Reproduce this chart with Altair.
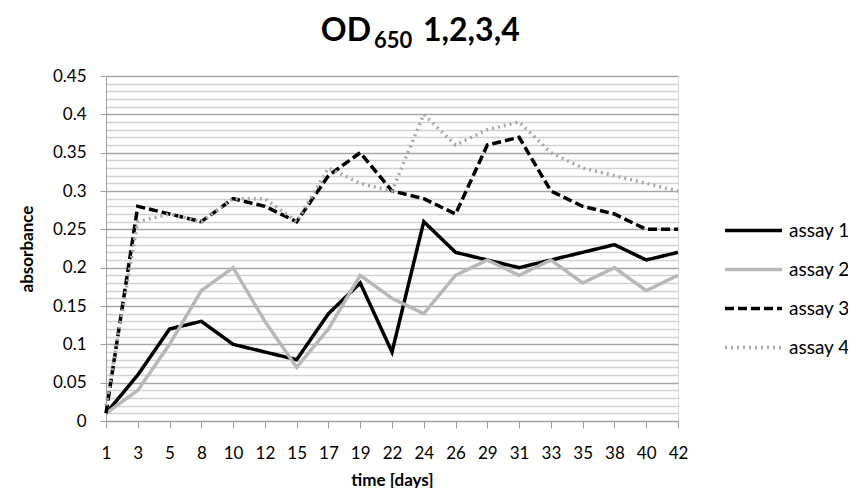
import altair as alt
import pandas as pd

days = ["1", "3", "5", "8", "10", "12", "15", "17", "19", "22", "24", "26", "29", "31", "33", "35", "38", "40", "42"]
assay1 = [0.01, 0.06, 0.12, 0.13, 0.10, 0.09, 0.08, 0.14, 0.18, 0.09, 0.26, 0.22, 0.21, 0.20, 0.21, 0.22, 0.23, 0.21, 0.22]
assay2 = [0.01, 0.04, 0.10, 0.17, 0.20, 0.13, 0.07, 0.12, 0.19, 0.16, 0.14, 0.19, 0.21, 0.19, 0.21, 0.18, 0.20, 0.17, 0.19]
assay3 = [0.01, 0.28, 0.27, 0.26, 0.29, 0.28, 0.26, 0.32, 0.35, 0.30, 0.29, 0.27, 0.36, 0.37, 0.30, 0.28, 0.27, 0.25, 0.25]
assay4 = [0.02, 0.26, 0.27, 0.26, 0.29, 0.29, 0.26, 0.33, 0.31, 0.30, 0.40, 0.36, 0.38, 0.39, 0.35, 0.33, 0.32, 0.31, 0.30]
series_names = ["assay 1", "assay 2", "assay 3", "assay 4"]
y_ticks = [i / 100 for i in range(0, 46)]

rows = []
for name, vals in zip(series_names, [assay1, assay2, assay3, assay4]):
    for d, v in zip(days, vals):
        rows.append({"day": d, "absorbance": v, "series": name})
df = pd.DataFrame(rows)

FONT = "Lato"
W, H = 572, 345

lines = alt.Chart(df).mark_line(strokeWidth=3.5, strokeJoin="miter").encode(
    x=alt.X("day:O", sort=days, title="time [days]",
            scale=alt.Scale(type="point", padding=0),
            axis=alt.Axis(labelAngle=0, labelFontSize=17, labelFont=FONT, labelColor="#000",
                          titleFont=FONT, titleFontSize=17, titleFontWeight="bold", titleColor="#000",
                          titlePadding=11, domainColor="#a0a0a0", tickColor="#a0a0a0",
                          tickSize=7, labelPadding=17, grid=False)),
    y=alt.Y("absorbance:Q", title="absorbance",
            scale=alt.Scale(domain=[0, 0.45], nice=False, zero=True),
            axis=alt.Axis(values=y_ticks, format=".2~f",
                          labelExpr="round(datum.value*100) % 5 == 0 ? datum.label : ''",
                          labelFontSize=17, labelFont=FONT, labelColor="#000",
                          titleFont=FONT, titleFontSize=17, titleFontWeight="bold", titleColor="#000",
                          titlePadding=16, domainColor="#a0a0a0",
                          tickColor={"condition": {"test": "round(datum.value*100) % 5 == 0", "value": "#a0a0a0"}, "value": "rgba(0,0,0,0)"},
                          gridColor={"condition": {"test": "round(datum.value*100) % 5 == 0", "value": "#a6a6a6"}, "value": "#d2d2d2"},
                          gridWidth=1.5, tickSize=6, labelPadding=14, grid=True)),
    color=alt.Color("series:N",
                    scale=alt.Scale(domain=series_names, range=["#000000", "#b8b8b8", "#000000", "#a8a8a8"]),
                    legend=alt.Legend(title=None, orient="none", legendX=617, legendY=135,
                                      symbolType="stroke", symbolSize=3249, symbolStrokeWidth=3.5,
                                      labelFont=FONT, labelFontSize=19, labelColor="#000",
                                      labelOffset=5, clipHeight=39, rowPadding=0)),
    strokeDash=alt.StrokeDash("series:N",
                              scale=alt.Scale(domain=series_names, range=[[1, 0], [1, 0], [9, 4], [2, 4]]),
                              legend=None),
    order=alt.Order("series:N"),
)

title_df = pd.DataFrame([{"k": 0}])
t1 = alt.Chart(title_df).mark_text(font=FONT, fontSize=32, fontWeight="bold", align="right", baseline="alphabetic").encode(
    x=alt.value(265), y=alt.value(-35), text=alt.value("OD"))
t2 = alt.Chart(title_df).mark_text(font=FONT, fontSize=22, fontWeight="bold", align="left", baseline="alphabetic").encode(
    x=alt.value(268), y=alt.value(-28), text=alt.value("650"))
t3 = alt.Chart(title_df).mark_text(font=FONT, fontSize=32, fontWeight="bold", align="left", baseline="alphabetic").encode(
    x=alt.value(317), y=alt.value(-35), text=alt.value("1,2,3,4"))

chart = alt.layer(lines, t1, t2, t3).properties(
    width=W, height=H,
    autosize=alt.AutoSizeParams(type="none"),
    padding={"left": 98, "top": 68, "right": 170, "bottom": 67},
).configure_view(stroke=None).configure(background="white")

chart.save("out.html", embed_options={"renderer": "svg", "actions": False})
